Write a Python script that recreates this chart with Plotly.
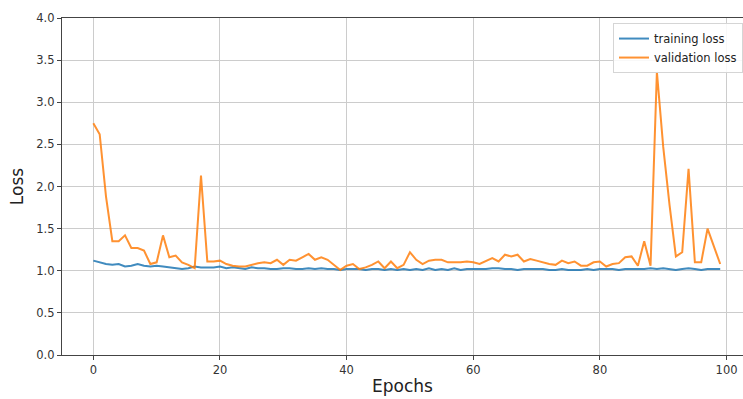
import plotly.graph_objects as go

epochs = list(range(100))

training_loss = [
    1.12, 1.10, 1.08, 1.07, 1.08, 1.05, 1.06, 1.08, 1.06, 1.05,
    1.06, 1.05, 1.04, 1.03, 1.02, 1.03, 1.05, 1.04, 1.04, 1.04,
    1.05, 1.03, 1.04, 1.03, 1.02, 1.04, 1.03, 1.03, 1.02, 1.02,
    1.03, 1.03, 1.02, 1.02, 1.03, 1.02, 1.03, 1.02, 1.02, 1.01,
    1.02, 1.02, 1.02, 1.01, 1.02, 1.02, 1.01, 1.02, 1.01, 1.02,
    1.01, 1.02, 1.01, 1.03, 1.01, 1.02, 1.01, 1.03, 1.01, 1.02,
    1.02, 1.02, 1.02, 1.03, 1.03, 1.02, 1.02, 1.01, 1.02, 1.02,
    1.02, 1.02, 1.01, 1.01, 1.02, 1.01, 1.01, 1.01, 1.02, 1.01,
    1.02, 1.02, 1.02, 1.01, 1.02, 1.02, 1.02, 1.02, 1.03, 1.02,
    1.03, 1.02, 1.01, 1.02, 1.03, 1.02, 1.01, 1.02, 1.02, 1.02,
]

validation_loss = [
    2.75, 2.62, 1.88, 1.35, 1.35, 1.42, 1.27, 1.27, 1.24, 1.08,
    1.10, 1.42, 1.16, 1.18, 1.10, 1.07, 1.03, 2.13, 1.11, 1.11,
    1.12, 1.08, 1.06, 1.05, 1.05, 1.07, 1.09, 1.10, 1.09, 1.13,
    1.07, 1.13, 1.12, 1.16, 1.20, 1.13, 1.16, 1.13, 1.07, 1.01,
    1.06, 1.08, 1.02, 1.04, 1.07, 1.11, 1.03, 1.11, 1.03, 1.07,
    1.22, 1.13, 1.08, 1.12, 1.13, 1.13, 1.10, 1.10, 1.10, 1.11,
    1.10, 1.08, 1.12, 1.15, 1.11, 1.19, 1.17, 1.19, 1.11, 1.14,
    1.12, 1.10, 1.08, 1.07, 1.12, 1.09, 1.11, 1.06, 1.06, 1.10,
    1.11, 1.05, 1.08, 1.09, 1.16, 1.17, 1.06, 1.35, 1.06, 3.36,
    2.47, 1.78, 1.17, 1.22, 2.21, 1.10, 1.10, 1.50, 1.29, 1.08,
]

x_ticks = [0, 20, 40, 60, 80, 100]
y_ticks = [0.0, 0.5, 1.0, 1.5, 2.0, 2.5, 3.0, 3.5, 4.0]

fig = go.Figure()
fig.add_trace(go.Scatter(x=epochs, y=training_loss, mode="lines", name="training loss",
                         line=dict(color="#1f77b4", width=2), opacity=0.85))
fig.add_trace(go.Scatter(x=epochs, y=validation_loss, mode="lines", name="validation loss",
                         line=dict(color="#ff7f0e", width=2), opacity=0.85))

font_family = "DejaVu Sans, sans-serif"
fig.update_layout(
    width=743, height=399,
    margin=dict(l=62, r=0, t=18, b=44, autoexpand=False),
    paper_bgcolor="white", plot_bgcolor="white",
    font=dict(family=font_family, color="#333333"),
    showlegend=True,
    legend=dict(x=1.0, xanchor="right", y=0.985, yanchor="top",
                bgcolor="rgba(255,255,255,0.85)", bordercolor="#d5d5d5", borderwidth=1,
                font=dict(size=11.5, color="#222222"), itemwidth=30,
                tracegroupgap=0),
)
fig.update_xaxes(
    range=[-4.95, 102.6], tickvals=x_ticks, ticktext=[str(v) for v in x_ticks],
    showgrid=True, gridcolor="#cccccc", gridwidth=1.4,
    showline=True, linecolor="#444444", linewidth=1.3, mirror=True,
    ticks="outside", ticklen=4, tickcolor="#444444", tickwidth=1,
    tickfont=dict(size=11.5, color="#333333"), zeroline=False, automargin=True,
    title=dict(text="Epochs", font=dict(size=17, color="#222222"), standoff=4),
)
fig.update_yaxes(
    range=[0, 4.0], tickvals=y_ticks, ticktext=[f"{v:.1f}" for v in y_ticks],
    showgrid=True, gridcolor="#cccccc", gridwidth=1.4,
    showline=True, linecolor="#444444", linewidth=1.3,
    ticks="outside", ticklen=4, tickcolor="#444444", tickwidth=1,
    tickfont=dict(size=11.5, color="#333333"), zeroline=False, automargin=True,
    title=dict(text="Loss", font=dict(size=17, color="#222222"), standoff=8),
)

fig.write_html(
    "out.html",
    config={"displayModeBar": False},
    post_script="document.body.style.margin='0';document.body.style.padding='0';"
                "document.body.style.overflow='hidden';",
)
